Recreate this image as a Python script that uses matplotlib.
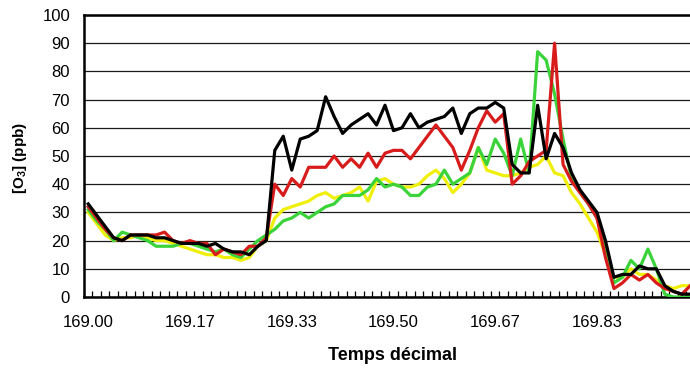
import matplotlib.pyplot as plt
import numpy as np

plt.rcParams['font.family'] = ['Liberation Sans', 'DejaVu Sans']
plt.rcParams['mathtext.fontset'] = 'custom'
plt.rcParams['mathtext.rm'] = 'Liberation Sans'
plt.rcParams['mathtext.bf'] = 'Liberation Sans:bold'

# one sample every 20 minutes, day 169
n_points = 72
times = 169 + np.arange(n_points) / 72.0

o3_black = [33, 29, 25, 21, 20, 22, 22, 22, 21, 21, 20, 19, 19, 19, 18, 19, 17, 16,
            16, 15, 18, 20, 52, 57, 45, 56, 57, 59, 71, 64, 58, 61, 63, 65, 61, 68,
            59, 60, 65, 60, 62, 63, 64, 67, 58, 65, 67, 67, 69, 67, 47, 44, 44, 68,
            49, 58, 53, 44, 38, 34, 30, 20, 7, 8, 8, 11, 10, 10, 4, 2, 1, 1]
o3_red = [32, 28, 24, 21, 20, 22, 22, 22, 22, 23, 20, 19, 20, 19, 19, 15, 17, 16,
          15, 18, 18, 21, 40, 36, 42, 39, 46, 46, 46, 50, 46, 49, 46, 51, 46, 51,
          52, 52, 49, 53, 57, 61, 57, 53, 45, 52, 60, 66, 62, 65, 40, 43, 48, 50,
          52, 90, 47, 41, 37, 33, 28, 14, 3, 5, 8, 6, 8, 5, 3, 2, 1, 4]
o3_green = [31, 27, 24, 20, 23, 22, 21, 20, 18, 18, 18, 19, 19, 18, 17, 16, 17, 15,
            14, 17, 20, 22, 24, 27, 28, 30, 28, 30, 32, 33, 36, 36, 36, 38, 42, 39,
            40, 39, 36, 36, 39, 40, 45, 40, 42, 44, 53, 47, 56, 51, 43, 56, 44, 87,
            84, 72, 56, 42, 37, 33, 28, 18, 5, 7, 13, 10, 17, 10, 1, 0, 0, 0]
o3_yellow = [30, 26, 22, 20, 21, 21, 22, 21, 20, 20, 19, 18, 17, 16, 15, 15, 14, 14,
             13, 14, 18, 20, 28, 31, 32, 33, 34, 36, 37, 35, 36, 37, 39, 34, 41, 42,
             40, 39, 39, 40, 43, 45, 42, 37, 40, 44, 53, 45, 44, 43, 43, 44, 46, 47,
             50, 44, 43, 37, 33, 28, 23, 15, 7, 7, 10, 8, 8, 6, 4, 3, 4, 4]

W, H = 690, 372
fig = plt.figure(figsize=(W / 100, H / 100), dpi=100)
step = 1 / 72.0
left_px, right_px, top_px, bottom_px = 84, 694.5, 15, 297
ax = fig.add_axes([left_px / W, 1 - bottom_px / H,
                   (right_px - left_px) / W, (bottom_px - top_px) / H])

lw = 2.3
ax.plot(times, o3_yellow, color='#f0ef0a', lw=lw, zorder=3)
ax.plot(times, o3_green, color='#3ad43a', lw=lw, zorder=3)
ax.plot(times, o3_red, color='#d81c1c', lw=lw, zorder=4)
ax.plot(times, o3_black, color='black', lw=lw, zorder=5)

ax.set_xlim(times[0] - step / 2, times[-1] + step / 2)
ax.set_ylim(0, 100)

# horizontal grid
ax.set_yticks(np.arange(0, 101, 10))
ax.yaxis.grid(True, color='#1a1a1a', lw=0.9)
ax.set_axisbelow(True)
ax.tick_params(axis='y', length=0, pad=10, labelsize=12)

# labels every 12 samples, small ticks between samples
ax.set_xticks(times[::12])
ax.set_xticklabels(['%.2f' % t for t in times[::12]])
ax.set_xticks(times[0] - step / 2 + np.arange(n_points + 1) * step, minor=True)
ax.tick_params(axis='x', which='major', length=0, pad=13, labelsize=12)
ax.tick_params(axis='x', which='minor', direction='in', length=4, width=0.9)

for side in ['left', 'top', 'bottom', 'right']:
    ax.spines[side].set_linewidth(1.8)
    ax.spines[side].set_color('black')

fig.text(20 / W, 1 - 158 / H, r'[O$_\mathbf{3}$] (ppb)', rotation=90,
         ha='center', va='center', fontsize=11, fontweight='bold')
fig.text(392 / W, 1 - 356 / H, 'Temps décimal', ha='center', va='center',
         fontsize=13, fontweight='bold')

fig.savefig('out.png', dpi=100)
